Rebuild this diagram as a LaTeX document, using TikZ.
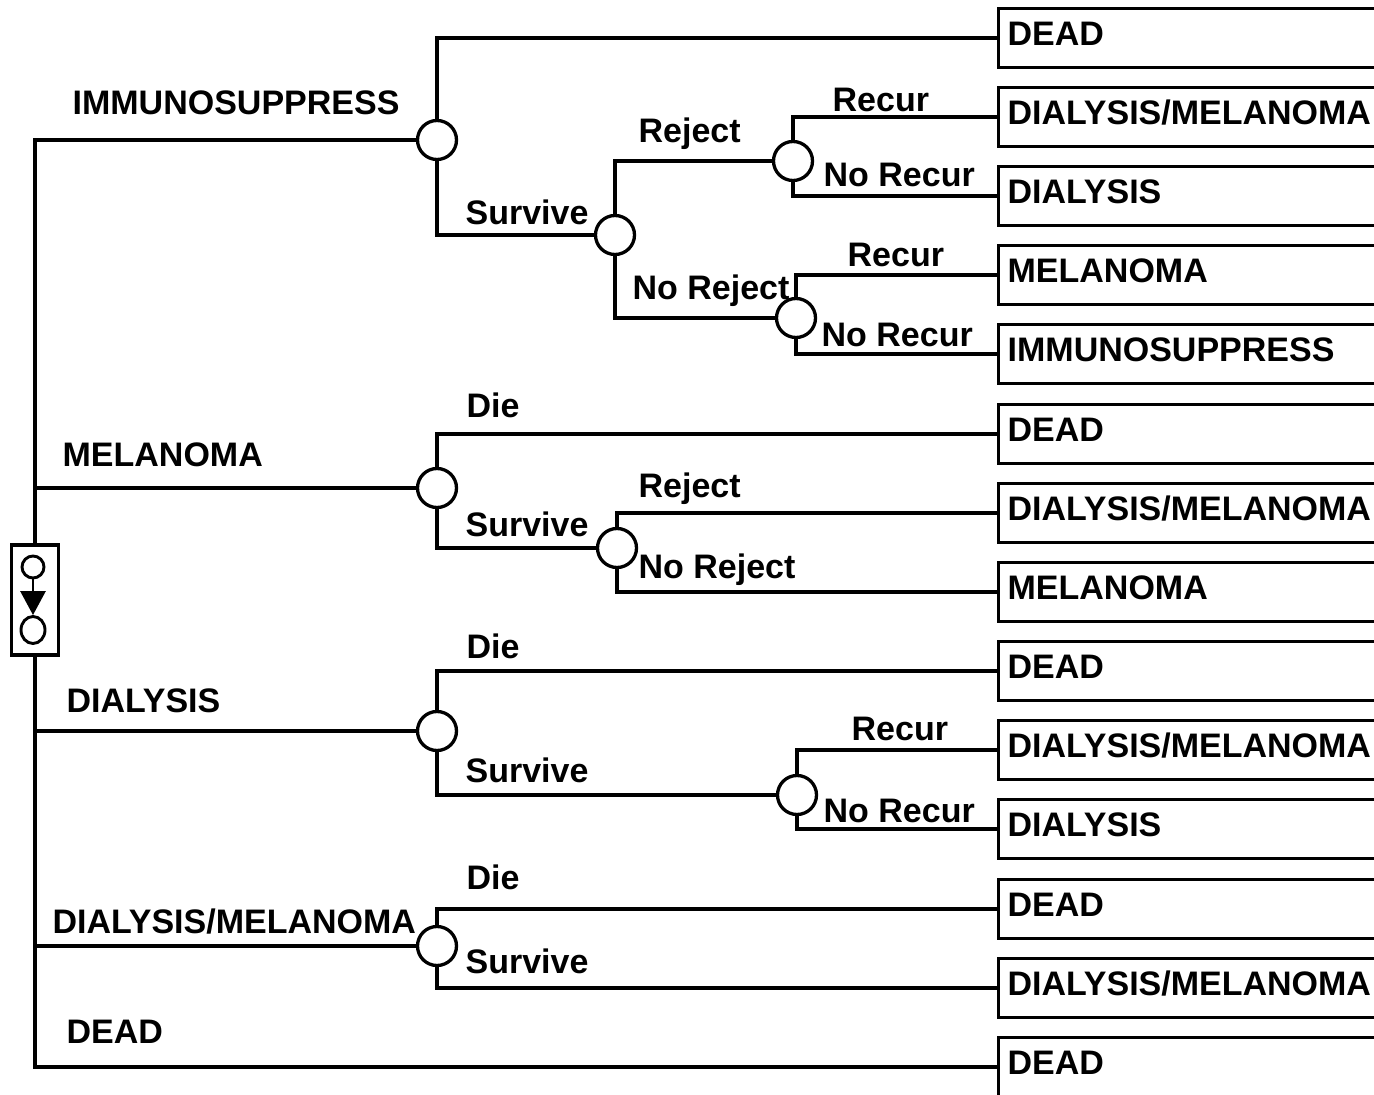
\documentclass[tikz,border=0pt]{standalone}
\usepackage{fontspec}
\setmainfont{Liberation Sans}
\usetikzlibrary{arrows.meta,shapes.geometric}

\begin{document}
\begin{tikzpicture}[x=0.5pt, y=0.5pt, line width=1.65pt,
  chance/.style={circle, draw, fill=white, minimum size=19.5pt},
  outcome/.style={draw, anchor=west, minimum height=29.5pt, text width=215pt,
    align=left, inner xsep=4.5pt, text height=0.72em, text depth=0em},
  lbl/.style={anchor=base west}]
\tikzstyle{every node}+=[inner sep=0pt, font=\bfseries\fontsize{17}{20}\selectfont]
\useasboundingbox (0,0) rectangle (1374,-1095);
% decision node
\node [draw, minimum width=23.5pt, minimum height=55pt] (dec) at (35,-600) {};
\node [circle, draw, line width=1.45pt, minimum size=11pt] (dtop) at (33,-567) {};
\node [ellipse, draw, line width=1.45pt, minimum width=12pt, minimum height=13.5pt] (dbot) at (33,-630) {};
\draw [line width=1.45pt, -{Triangle[width=12.5pt,length=12pt]}] (dtop) -- (dbot);
% chance nodes
\node [chance] (c1) at (437,-140) {};
\node [chance] (c2) at (615,-235) {};
\node [chance] (c3) at (793,-161) {};
\node [chance] (c4) at (796,-318) {};
\node [chance] (c5) at (437,-488) {};
\node [chance] (c6) at (617,-548) {};
\node [chance] (c7) at (437,-731) {};
\node [chance] (c8) at (797,-795) {};
\node [chance] (c9) at (437,-946) {};
% outcomes
\node [outcome] (b1) at (997,-38) {DEAD};
\node [outcome] (b2) at (997,-117) {DIALYSIS/MELANOMA};
\node [outcome] (b3) at (997,-196) {DIALYSIS};
\node [outcome] (b4) at (997,-275) {MELANOMA};
\node [outcome] (b5) at (997,-354) {IMMUNOSUPPRESS};
\node [outcome] (b6) at (997,-434) {DEAD};
\node [outcome] (b7) at (997,-513) {DIALYSIS/MELANOMA};
\node [outcome] (b8) at (997,-592) {MELANOMA};
\node [outcome] (b9) at (997,-671) {DEAD};
\node [outcome] (b10) at (997,-750) {DIALYSIS/MELANOMA};
\node [outcome] (b11) at (997,-829) {DIALYSIS};
\node [outcome] (b12) at (997,-909) {DEAD};
\node [outcome] (b13) at (997,-988) {DIALYSIS/MELANOMA};
\node [outcome] (b14) at (997,-1067) {DEAD};
% branches from the decision
\draw (c1.west) -| (dec.north);
\draw (dec.south) |- (b14.west);
\draw (c5.west) -- (c5.west -| dec.north);
\draw (c7.west) -- (c7.west -| dec.north);
\draw (c9.west) -- (c9.west -| dec.north);
% chance branches
\draw (c1.north) |- (b1.west);
\draw (c1.south) |- (c2.west);
\draw (c2.north) |- (c3.west);
\draw (c2.south) |- (c4.west);
\draw (c3.north) |- (b2.west);
\draw (c3.south) |- (b3.west);
\draw (c4.north) |- (b4.west);
\draw (c4.south) |- (b5.west);
\draw (c5.north) |- (b6.west);
\draw (c5.south) |- (c6.west);
\draw (c6.north) |- (b7.west);
\draw (c6.south) |- (b8.west);
\draw (c7.north) |- (b9.west);
\draw (c7.south) |- (c8.west);
\draw (c8.north) |- (b10.west);
\draw (c8.south) |- (b11.west);
\draw (c9.north) |- (b12.west);
\draw (c9.south) |- (b13.west);
% labels
\node [lbl] (limm) at (71,-115) {IMMUNOSUPPRESS};
\node [lbl] (lmel) at (61,-467) {MELANOMA};
\node [lbl] (ldia) at (65,-712) {DIALYSIS};
\node [lbl] (ldm) at (51,-933) {DIALYSIS/MELANOMA};
\node [lbl] (ldead) at (65,-1043) {DEAD};
\node [lbl] (s1) at (464,-225) {Survive};
\node [lbl] (rj1) at (637,-143) {Reject};
\node [lbl] (nrj1) at (631,-300) {No Reject};
\node [lbl] (rc1) at (831,-112) {Recur};
\node [lbl] (nrc1) at (822,-187) {No Recur};
\node [lbl] (rc2) at (846,-267) {Recur};
\node [lbl] (nrc2) at (820,-347) {No Recur};
\node [lbl] (d2) at (465,-418) {Die};
\node [lbl] (s2) at (464,-537) {Survive};
\node [lbl] (rj2) at (637,-498) {Reject};
\node [lbl] (nrj2) at (637,-578) {No Reject};
\node [lbl] (d3) at (465,-658) {Die};
\node [lbl] (s3) at (464,-782) {Survive};
\node [lbl] (rc3) at (850,-740) {Recur};
\node [lbl] (nrc3) at (822,-822) {No Recur};
\node [lbl] (d4) at (465,-889) {Die};
\node [lbl] (s4) at (464,-973) {Survive};
\end{tikzpicture}
\end{document}
